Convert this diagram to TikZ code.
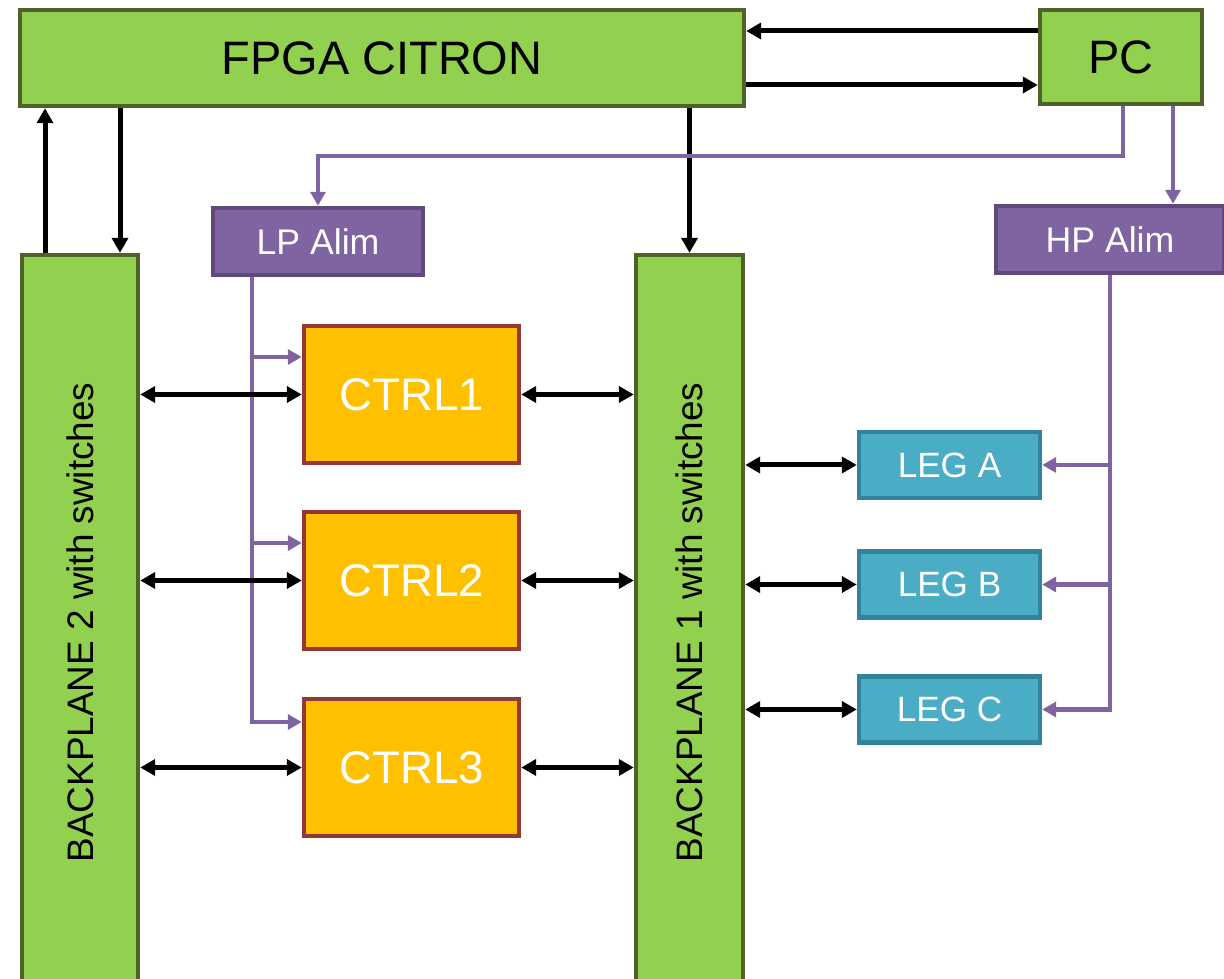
\documentclass[tikz,border=0pt]{standalone}
\usepackage{fontspec}
\setmainfont{Liberation Sans}
\usetikzlibrary{arrows.meta}

\definecolor{grfill}{HTML}{92D050}
\definecolor{grline}{HTML}{4F6228}
\definecolor{pufill}{HTML}{8064A2}
\definecolor{puline}{HTML}{5F497A}
\definecolor{orfill}{HTML}{FFC000}
\definecolor{orline}{HTML}{953735}
\definecolor{blfill}{HTML}{4BACC6}
\definecolor{blline}{HTML}{31849B}

\tikzset{
  box/.style={draw, line width=0.09cm, inner sep=0pt, align=center},
  greenbox/.style={box, fill=grfill, draw=grline, text=black},
  purplebox/.style={box, fill=pufill, draw=puline, text=white,
    minimum height=1.34cm, font=\fontsize{20.3}{24}\selectfont},
  ctrlbox/.style={box, fill=orfill, draw=orline, text=white,
    minimum width=4.3cm, minimum height=2.74cm, font=\fontsize{26}{30}\selectfont},
  legbox/.style={box, fill=blfill, draw=blline, text=white,
    minimum width=3.62cm, minimum height=1.32cm, font=\fontsize{20}{24}\selectfont},
  tip/.tip={Triangle[length=0.3cm,width=0.32cm]},
  blk/.style={line width=0.1cm, black, -tip},
  bidi/.style={line width=0.1cm, black, tip-tip},
  pur/.style={line width=0.09cm, pufill, -{Triangle[length=0.28cm,width=0.3cm]}},
}

\begin{document}
\begin{tikzpicture}[x=0.02cm, y=-0.02cm]
\useasboundingbox (0,0) rectangle (1224,979);
\clip (0,0) rectangle (1224,979);

% main blocks
\node[greenbox, minimum width=14.48cm, minimum height=1.92cm,
      font=\fontsize{26.7}{30}\selectfont] (fpga) at (382,58) {FPGA CITRON};
\node[greenbox, minimum width=3.24cm, minimum height=1.88cm,
      font=\fontsize{26.7}{30}\selectfont] (pc) at (1121,57) {PC};

% backplanes (run past the lower edge)
\node[greenbox, minimum width=2.32cm, minimum height=14.7cm,
      font=\fontsize{21}{24}\selectfont] (bp2) at (80,622.5)
      {\rotatebox{90}{BACKPLANE 2 with switches}};
\node[greenbox, minimum width=2.14cm, minimum height=14.7cm,
      font=\fontsize{21}{24}\selectfont] (bp1) at (689.5,622.5)
      {\rotatebox{90}{BACKPLANE 1 with switches}};

% power supplies
\node[purplebox, minimum width=4.2cm] (lp) at (318,241.5) {LP Alim};
\node[purplebox, minimum width=4.56cm] (hp) at (1110,239.5) {HP Alim};

% controllers
\node[ctrlbox] (c1) at (411.5,394.5) {CTRL1};
\node[ctrlbox] (c2) at (411.5,580.5) {CTRL2};
\node[ctrlbox] (c3) at (411.5,767.5) {CTRL3};

% legs
\node[legbox] (la) at (949.5,465) {LEG A};
\node[legbox] (lb) at (949.5,584.5) {LEG B};
\node[legbox] (lc) at (949.5,709.5) {LEG C};

% helper rows and columns
\coordinate (r1) at (0,31);
\coordinate (r2) at (0,85);
\coordinate (k1) at (45,0);
\coordinate (k2) at (120,0);
\coordinate (pa) at (1123,0);
\coordinate (pb) at (1173,0);
\coordinate (h1) at (0,156);
\coordinate (lx) at (252,0);
\coordinate (q1) at (0,357);
\coordinate (q2) at (0,543);
\coordinate (q3) at (0,722);
\coordinate (hx) at (1110,0);

% FPGA <-> PC
\draw[blk] (pc.west |- r1) -- (fpga.east |- r1);
\draw[blk] (fpga.east |- r2) -- (pc.west |- r2);

% FPGA <-> backplanes
\draw[blk] (bp2.north -| k1) -- (fpga.south -| k1);
\draw[blk] (fpga.south -| k2) -- (bp2.north -| k2);
\draw[blk] (fpga.south -| bp1.north) -- (bp1.north);

% PC -> power supplies
\draw[pur] (pc.south -| pa) |- (lp.north |- h1) -- (lp.north);
\draw[pur] (pc.south -| pb) -- (hp.north -| pb);

% LP Alim -> controllers
\draw[pur] (lp.south -| lx) |- (c3.west |- q3);
\draw[pur] (lx |- q1) -- (c1.west |- q1);
\draw[pur] (lx |- q2) -- (c2.west |- q2);

% HP Alim -> legs
\draw[pur] (hp.south -| hx) |- (lc.east);
\draw[pur] (hx |- la.east) -- (la.east);
\draw[pur] (hx |- lb.east) -- (lb.east);

% backplane 2 <-> controllers <-> backplane 1
\foreach \c in {c1,c2,c3} {
  \draw[bidi] (bp2.east |- \c.west) -- (\c.west);
  \draw[bidi] (\c.east) -- (bp1.west |- \c.east);
}

% backplane 1 <-> legs
\foreach \l in {la,lb,lc} {
  \draw[bidi] (bp1.east |- \l.west) -- (\l.west);
}
\end{tikzpicture}
\end{document}
